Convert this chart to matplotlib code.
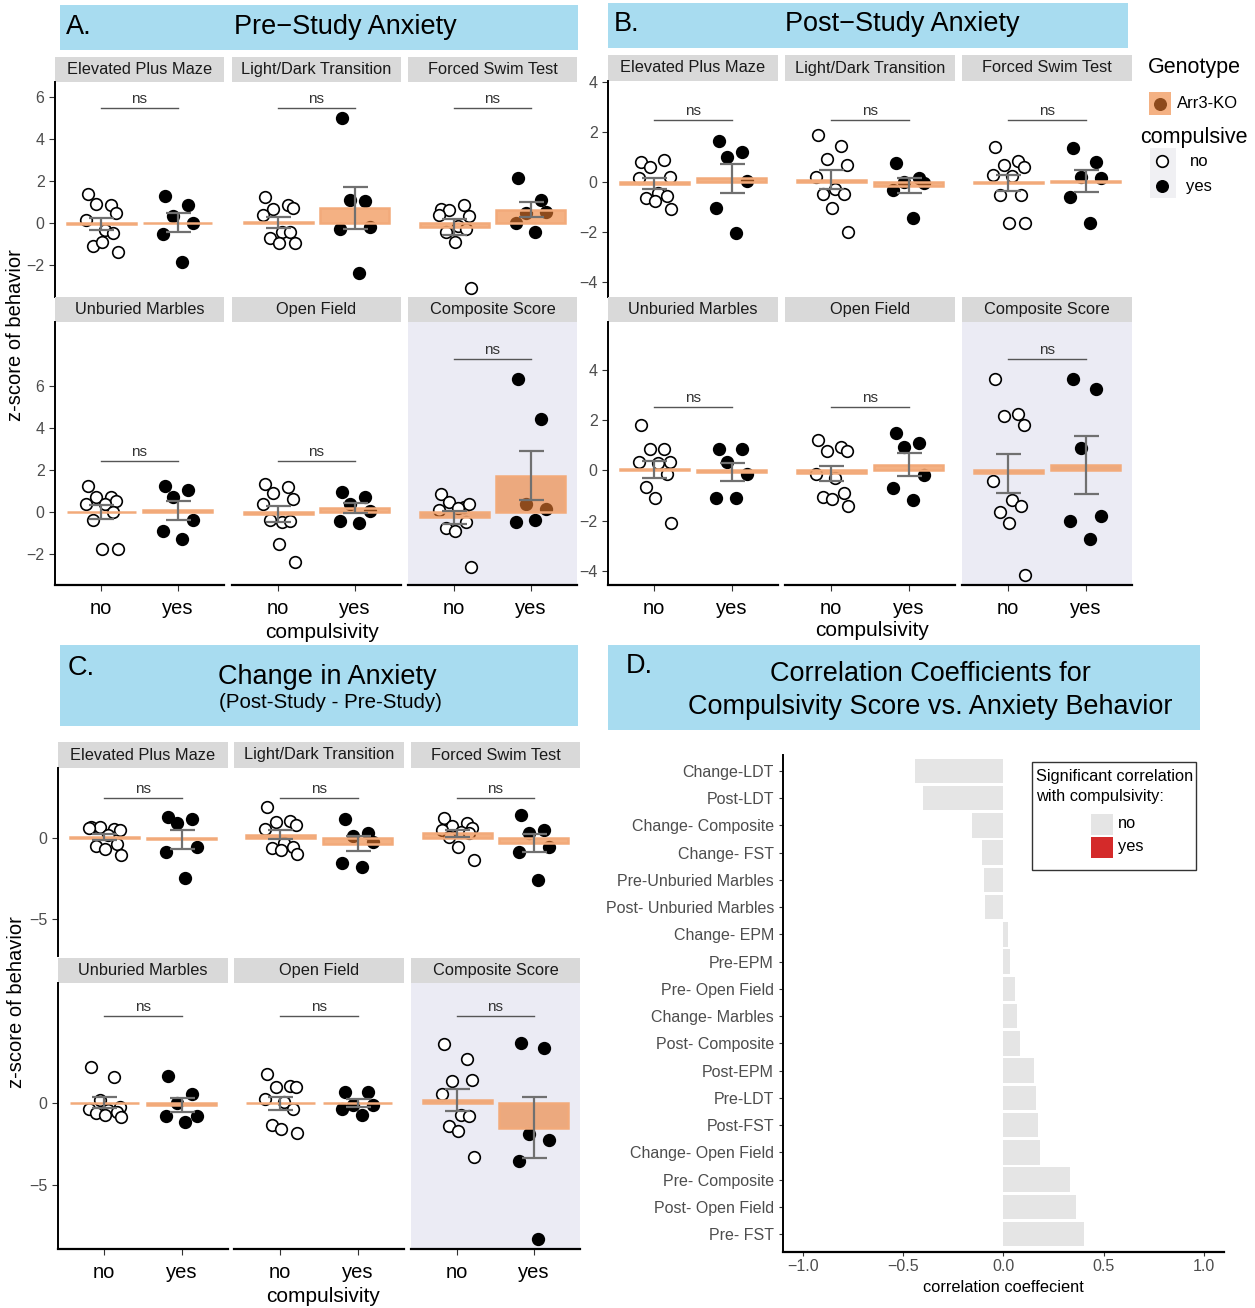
import numpy as np
import matplotlib
matplotlib.use('Agg')
import matplotlib.pyplot as plt
from matplotlib.patches import Rectangle

plt.rcParams['font.family'] = ['Liberation Sans', 'DejaVu Sans']

# facet order: EPM, LDT, FST, Unburied Marbles, Open Field, Composite
tests = ["Elevated Plus Maze", "Light/Dark Transition", "Forced Swim Test",
         "Unburied Marbles", "Open Field", "Composite Score"]

pre_no = [
    [1.40, 0.86, 0.92, 0.48, 0.16, -0.32, -0.44, -1.06, -0.87, -1.35],
    [1.27, 0.87, 0.67, 0.71, 0.40, -0.43, -0.43, -0.71, -0.95, -0.92],
    [0.70, 0.86, 0.63, 0.35, 0.40, -0.11, -0.27, -0.40, -0.90, -3.06],
    [1.24, 0.70, 0.70, 0.52, 0.38, 0.37, -0.02, -0.38, -1.78, -1.78],
    [1.33, 1.21, 0.89, 0.62, 0.38, -0.46, -0.41, -0.38, -1.54, -2.40],
    [0.84, 0.25, 0.46, 0.38, 0.10, 0.17, -0.46, -0.78, -0.90, -2.60],
]
pre_yes = [
    [1.30, 0.89, 0.37, 0.00, -0.51, -1.86],
    [5.03, 1.06, 1.11, -0.16, -0.27, -2.35],
    [2.17, 1.10, 0.48, 0.52, 0.03, -0.40],
    [1.24, 1.05, 0.70, -0.38, -0.90, -1.27],
    [0.97, 0.73, 0.38, 0.03, -0.41, -0.51],
    [6.33, 4.41, 0.38, 0.14, -0.49, -0.38],
]
post_no = [
    [0.81, 0.88, 0.61, 0.21, 0.15, -0.45, -0.55, -0.62, -0.74, -1.08],
    [1.87, 1.45, 0.92, 0.68, 0.21, -0.28, -0.49, -0.48, -1.02, -1.98],
    [1.38, 0.85, 0.68, 0.58, 0.28, 0.24, -0.52, -0.52, -1.65, -1.65],
    [1.80, 0.84, 0.84, 0.32, 0.32, 0.28, -0.15, -0.65, -1.11, -2.08],
    [1.21, 0.94, 0.78, 0.78, -0.15, -0.29, -0.92, -1.05, -1.15, -1.41],
    [3.65, 2.23, 2.17, 1.80, -0.44, -1.19, -1.41, -1.67, -2.08, -4.16],
]
post_yes = [
    [1.65, 1.20, 1.01, 0.04, -1.05, -2.02],
    [0.77, 0.17, 0.00, -0.05, -0.32, -1.42],
    [1.37, 0.78, 0.21, 0.17, -0.58, -1.65],
    [0.84, 0.84, 0.34, -0.15, -1.11, -1.11],
    [1.47, 1.07, 0.94, -0.19, -0.72, -1.18],
    [3.65, 3.26, 0.88, -1.82, -2.00, -2.75],
]
change_no = [
    [0.63, 0.55, 0.67, 0.47, 0.60, 0.16, -0.41, -0.49, -0.71, -1.06],
    [1.86, 1.00, 0.95, 0.75, 0.55, -0.30, -0.55, -0.60, -0.72, -1.00],
    [1.18, 0.92, 0.71, 0.57, 0.50, 0.37, 0.31, 0.02, -0.55, -1.37],
    [2.20, 1.63, 0.20, -0.20, -0.37, -0.41, -0.50, -0.61, -0.71, -0.82],
    [1.78, 1.08, 1.02, 0.98, 0.24, 0.10, -0.37, -1.33, -1.57, -1.80],
    [3.61, 2.71, 1.39, 1.45, 0.55, -0.71, -0.76, -1.39, -1.69, -3.27],
]
change_yes = [
    [1.29, 1.12, 0.88, -0.55, -0.86, -2.49],
    [1.12, 0.27, 0.10, -0.29, -1.53, -1.82],
    [1.39, 0.47, 0.27, -0.59, -0.86, -2.59],
    [1.67, 0.55, 0.00, -0.76, -0.76, -1.16],
    [0.67, 0.67, -0.10, -0.10, -0.35, -0.71],
    [3.71, 3.37, -1.90, -2.24, -3.53, -8.33],
]

corr_labels = ["Change-LDT", "Post-LDT", "Change- Composite", "Change- FST",
               "Pre-Unburied Marbles", "Post- Unburied Marbles", "Change- EPM",
               "Pre-EPM", "Pre- Open Field", "Change- Marbles", "Post- Composite",
               "Post-EPM", "Pre-LDT", "Post-FST", "Change- Open Field",
               "Pre- Composite", "Post- Open Field", "Pre- FST"]
corr_values = [-0.44, -0.40, -0.155, -0.107, -0.096, -0.09, 0.023, 0.03, 0.056,
               0.067, 0.08, 0.15, 0.16, 0.17, 0.18, 0.33, 0.36, 0.40]
corr_sig = ["no"] * 18

W, H = 1255, 1308
fig = plt.figure(figsize=(W / 100, H / 100), dpi=100)


def px_axes(x0, y0, x1, y1):
    return fig.add_axes([x0 / W, 1 - y1 / H, (x1 - x0) / W, (y1 - y0) / H])


ORANGE = (0.93, 0.49, 0.19, 0.6)
ORANGE_EDGE = '#f2aa7a'
BLUE_BOX = '#a8dcf0'
jit = [-0.17, 0.13, -0.06, 0.2, -0.2, 0.05, 0.16, -0.11, 0.01, 0.22]


def facet(ax, no, yes, ylim, yticks, bracket, composite, first_col, bottom):
    ax.set_facecolor('#ebebf4' if composite else 'white')
    for k, (vals, fill) in enumerate([(no, 'white'), (yes, 'black')]):
        xs = [k + 1 + jit[i % len(jit)] for i in range(len(vals))]
        ax.scatter(xs, vals, s=70, facecolor=fill, edgecolor='black',
                   linewidth=1.2, zorder=2)
    means = [np.mean(no), np.mean(yes)]
    ses = [np.std(v, ddof=1) / np.sqrt(len(v)) for v in (no, yes)]
    ax.bar([1, 2], means, width=0.9, color=ORANGE, edgecolor=ORANGE_EDGE,
           linewidth=1.8, zorder=3)
    ax.errorbar([1, 2], means, yerr=ses, fmt='none', ecolor='#707070',
                elinewidth=1.6, capsize=9, capthick=1.6, zorder=4)
    ax.plot([1, 2], [bracket, bracket], color='#555555', lw=1, zorder=4)
    ax.annotate('ns', (1.5, bracket), xytext=(0, 1.5), textcoords='offset points',
                ha='center', va='bottom', fontsize=11, color='#333333')
    ax.set_xlim(0.4, 2.6)
    ax.set_ylim(*ylim)
    for s in ax.spines.values():
        s.set_visible(False)
    if first_col:
        ax.spines['left'].set_visible(True)
        ax.spines['left'].set_linewidth(1.4)
        ax.set_yticks(yticks)
        ax.tick_params(axis='y', length=4, color='#333333', labelsize=11.5,
                       labelcolor='#4d4d4d')
    else:
        ax.set_yticks([])
    if bottom:
        ax.spines['bottom'].set_visible(True)
        ax.spines['bottom'].set_linewidth(1.6)
        ax.set_xticks([1, 2], ['no', 'yes'])
        ax.tick_params(axis='x', length=4, color='#333333', labelsize=14.5,
                       labelcolor='black', pad=6)
    else:
        ax.set_xticks([])


def strip(x0, y0, x1, y1, label):
    s = px_axes(x0, y0, x1, y1)
    s.set_facecolor('#d9d9d9')
    s.set_xticks([])
    s.set_yticks([])
    for sp in s.spines.values():
        sp.set_visible(False)
    s.text(0.5, 0.5, label, ha='center', va='center', fontsize=11.8,
           color='#1a1a1a', transform=s.transAxes)


def panel(no_sets, yes_sets, cols, rows, ylims, yticks, brackets):
    for r in range(2):
        (sy0, sy1), (py0, py1) = rows[r]
        for c in range(3):
            i = r * 3 + c
            x0, x1 = cols[c]
            strip(x0, sy0, x1, sy1, tests[i])
            ax = px_axes(x0, py0, x1, py1)
            facet(ax, no_sets[i], yes_sets[i], ylims[r], yticks, brackets[i],
                  i == 5, c == 0, r == 1)


# A: pre-study
panel(pre_no, pre_yes,
      [(55, 224), (232, 401), (408, 577)],
      [((57, 82), (82, 297)), ((297, 322), (322, 585))],
      [(-3.51, 6.73), (-3.48, 9.05)], [-2, 0, 2, 4, 6],
      [5.5, 5.5, 5.5, 2.43, 2.43, 7.3])

# B: post-study
panel(post_no, post_yes,
      [(608, 778), (785, 955), (962, 1132)],
      [((55, 81), (81, 297)), ((297, 322), (322, 585))],
      [(-4.58, 4.02), (-4.57, 5.91)], [-4, -2, 0, 2, 4],
      [2.46, 2.46, 2.46, 2.52, 2.52, 4.42])

# C: change
panel(change_no, change_yes,
      [(58, 228), (234, 404), (411, 580)],
      [((742, 768), (768, 956)), ((958, 983), (983, 1249))],
      [(-7.24, 4.27), (-8.92, 7.37)], [-5, 0],
      [2.45, 2.45, 2.45, 5.37, 5.37, 5.37])

# D: correlation bars
axd = px_axes(783, 755, 1224, 1252)
sig_colors = {'no': '#e5e5e5', 'yes': '#d42a2a'}
axd.barh(np.arange(len(corr_values)), corr_values, height=0.9,
         color=[sig_colors[s] for s in corr_sig])
axd.set_ylim(17.66, -0.58)
axd.set_xlim(-1.1, 1.1)
axd.set_yticks(np.arange(len(corr_labels)), corr_labels)
axd.set_xticks([-1.0, -0.5, 0.0, 0.5, 1.0])
axd.tick_params(axis='both', length=3, color='#333333', labelsize=11.5,
                labelcolor='#4d4d4d')
axd.tick_params(axis='x', pad=2)
axd.spines['top'].set_visible(False)
axd.spines['right'].set_visible(False)
axd.spines['left'].set_linewidth(1.4)
axd.spines['bottom'].set_linewidth(1.6)
axd.set_xlabel('correlation coeffecient', fontsize=11.8, labelpad=4)

# overlay in pixel coordinates for titles and legends
ov = fig.add_axes([0, 0, 1, 1])
ov.set_xlim(0, W)
ov.set_ylim(H, 0)
ov.axis('off')

for (x0, y0, x1, y1) in [(60, 5, 578, 50), (608, 3, 1128, 48),
                         (60, 645, 578, 726), (608, 645, 1200, 730)]:
    ov.add_patch(Rectangle((x0, y0), x1 - x0, y1 - y0, facecolor=BLUE_BOX,
                           edgecolor='none'))

TSIZE = 19.5
ov.text(66, 27, 'A.', fontsize=TSIZE, va='center')
ov.text(345, 27, 'Pre\u2212Study Anxiety', fontsize=TSIZE, ha='center', va='center')
ov.text(614, 24, 'B.', fontsize=TSIZE, va='center')
ov.text(902, 24, 'Post\u2212Study Anxiety', fontsize=TSIZE, ha='center', va='center')
ov.text(68, 668, 'C.', fontsize=TSIZE, va='center')
ov.text(327, 677, 'Change in Anxiety', fontsize=TSIZE, ha='center', va='center')
ov.text(330, 703, '(Post-Study - Pre-Study)', fontsize=14.8, ha='center',
        va='center')
ov.text(626, 666, 'D.', fontsize=TSIZE, va='center')
ov.text(930, 674, 'Correlation Coefficients for', fontsize=TSIZE, ha='center',
        va='center')
ov.text(930, 707, 'Compulsivity Score vs. Anxiety Behavior', fontsize=TSIZE,
        ha='center', va='center')

ov.text(16, 335, 'z-score of behavior', fontsize=14.5, rotation=90,
        ha='center', va='center')
ov.text(17, 1002, 'z-score of behavior', fontsize=14.5, rotation=90,
        ha='center', va='center')
ov.text(322, 632, 'compulsivity', fontsize=15, ha='center', va='center')
ov.text(872, 630, 'compulsivity', fontsize=15, ha='center', va='center')
ov.text(323, 1297, 'compulsivity', fontsize=15, ha='center', va='center')

# genotype / compulsive legend
ov.text(1148, 68, 'Genotype', fontsize=15.5, va='center')
ov.scatter([1160], [104], s=70, color='black', zorder=2)
ov.add_patch(Rectangle((1149, 92), 22, 23, facecolor=ORANGE, edgecolor='none',
                       zorder=3))
ov.text(1177, 104, 'Arr3-KO', fontsize=12, va='center')
ov.text(1140, 138, 'compulsive', fontsize=15.5, va='center')
ov.add_patch(Rectangle((1150, 148), 26, 50, facecolor='#f0f0f3', edgecolor='none'))
ov.scatter([1162], [161], s=70, facecolor='white', edgecolor='black', linewidth=1.2)
ov.scatter([1162], [186], s=70, color='black')
ov.text(1190, 161, 'no', fontsize=12, va='center')
ov.text(1186, 186, 'yes', fontsize=12, va='center')

# significance legend
ov.add_patch(Rectangle((1032, 762), 164, 108, facecolor='white',
                       edgecolor='#333333', linewidth=1))
ov.text(1036, 777, 'Significant correlation', fontsize=11.8, va='center')
ov.text(1036, 797, 'with compulsivity:', fontsize=11.8, va='center')
ov.add_patch(Rectangle((1091, 814), 22, 21, facecolor=sig_colors['no'],
                       edgecolor='none'))
ov.add_patch(Rectangle((1091, 837), 22, 21, facecolor=sig_colors['yes'],
                       edgecolor='none'))
ov.text(1118, 824, 'no', fontsize=11.8, va='center')
ov.text(1118, 846, 'yes', fontsize=11.8, va='center')

fig.savefig('out.png', dpi=100)
